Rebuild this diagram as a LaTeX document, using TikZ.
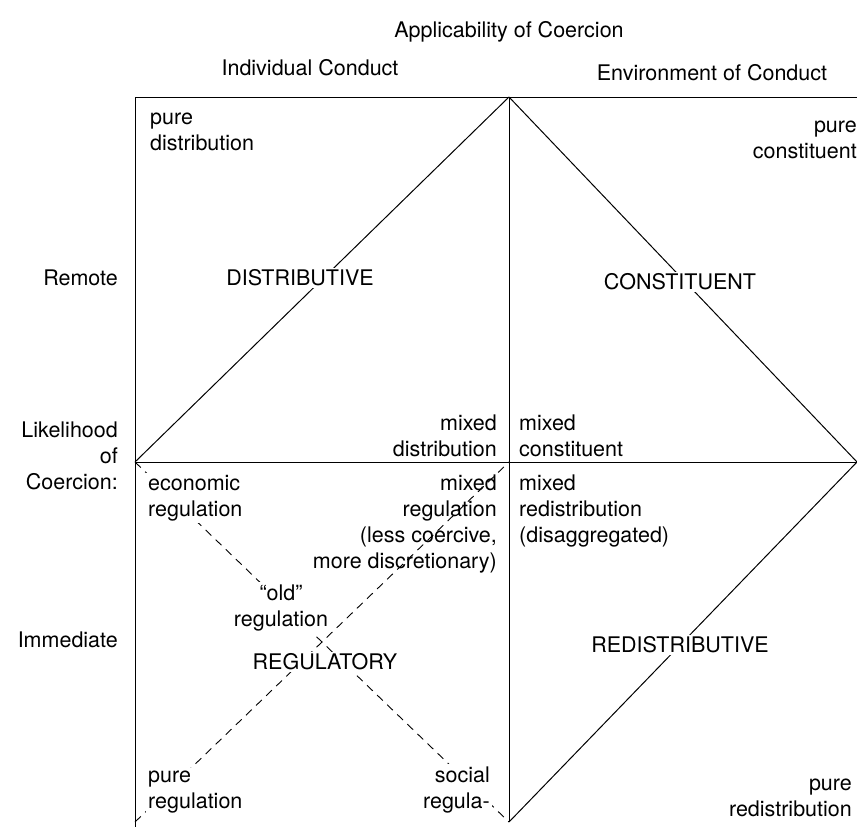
\documentclass[tikz,border=0pt]{standalone}
\usepackage{fontspec}
\setmainfont{TeX Gyre Heros}

\begin{document}
\begin{tikzpicture}[x=1pt, y=-1pt,
    lbl/.style={font=\fontsize{21.5}{26}\selectfont, inner sep=0pt},
    cut/.style={lbl, fill=white, inner sep=2pt},
    frame/.style={line width=1pt},
    guide/.style={line width=0.9pt, dash pattern=on 8pt off 6pt}
]
\useasboundingbox (0,0) rectangle (857,827);

% grid corners
\coordinate (tl) at (135,97);
\coordinate (tm) at (509,97);
\coordinate (tr) at (857,97);
\coordinate (ml) at (135,462);
\coordinate (cc) at (509,462);
\coordinate (mr) at (857,462);
\coordinate (bl) at (135,827);
\coordinate (bb) at (135,822);
\coordinate (bm) at (509,822);

\draw[frame] (tl) -- (tr);
\draw[frame] (ml) -- (mr);
\draw[frame] (tl) -- (bl);
\draw[frame] (tm) -- (bm);

\draw[frame] (tm) -- (ml);
\draw[frame] (tm) -- (mr);
\draw[frame] (mr) -- (bm);

\draw[guide] (ml) -- (bm);
\draw[guide] (bb) -- (cc);

% headings
\node[lbl, anchor=base] (app) at (509,37) {Applicability of Coercion};
\node[lbl, anchor=base] (ind) at (310,75) {Individual Conduct};
\node[lbl, anchor=base] (env) at (712,80) {Environment of Conduct};

\node[lbl, anchor=base east] (rem) at (118,285) {Remote};
\node[lbl, anchor=base east, align=right] (lik) at (118,489) {Likelihood\\of\\Coercion:};
\node[lbl, anchor=base east] (imm) at (118,647) {Immediate};

% corner labels (base = last line)
\node[lbl, anchor=base west, align=left] (pd) at (150,150) {pure\\distribution};
\node[lbl, anchor=base east, align=right] (pc) at (857,158) {pure\\constituent};
\node[lbl, anchor=base east, align=right] (md) at (497,456) {mixed\\distribution};
\node[lbl, anchor=base west, align=left] (mc) at (519,456) {mixed\\constituent};
\node[cut, anchor=base west, align=left] (er) at (146,516) {economic\\regulation};
\node[lbl, anchor=base east, align=right] (mreg) at (497,568) {mixed\\regulation\\(less coercive,\\more discretionary)};
\node[lbl, anchor=base west, align=left] (mred) at (519,542) {mixed\\redistribution\\(disaggregated)};
\node[cut, anchor=base, align=center] (old) at (281,626) {“old”\\regulation};
\node[cut, anchor=base west, align=left] (pr) at (146,808) {pure\\regulation};
\node[cut, anchor=base east, align=right] (sr) at (492,808) {social\\regula-};
\node[lbl, anchor=base east, align=right] (prd) at (852,816) {pure\\redistribution};

% type names
\node[cut] (dist) at (300,278) {DISTRIBUTIVE};
\node[cut] (cons) at (680,282) {CONSTITUENT};
\node[cut] (reg) at (325,662) {REGULATORY};
\node[cut] (redi) at (680,645) {REDISTRIBUTIVE};
\end{tikzpicture}
\end{document}
